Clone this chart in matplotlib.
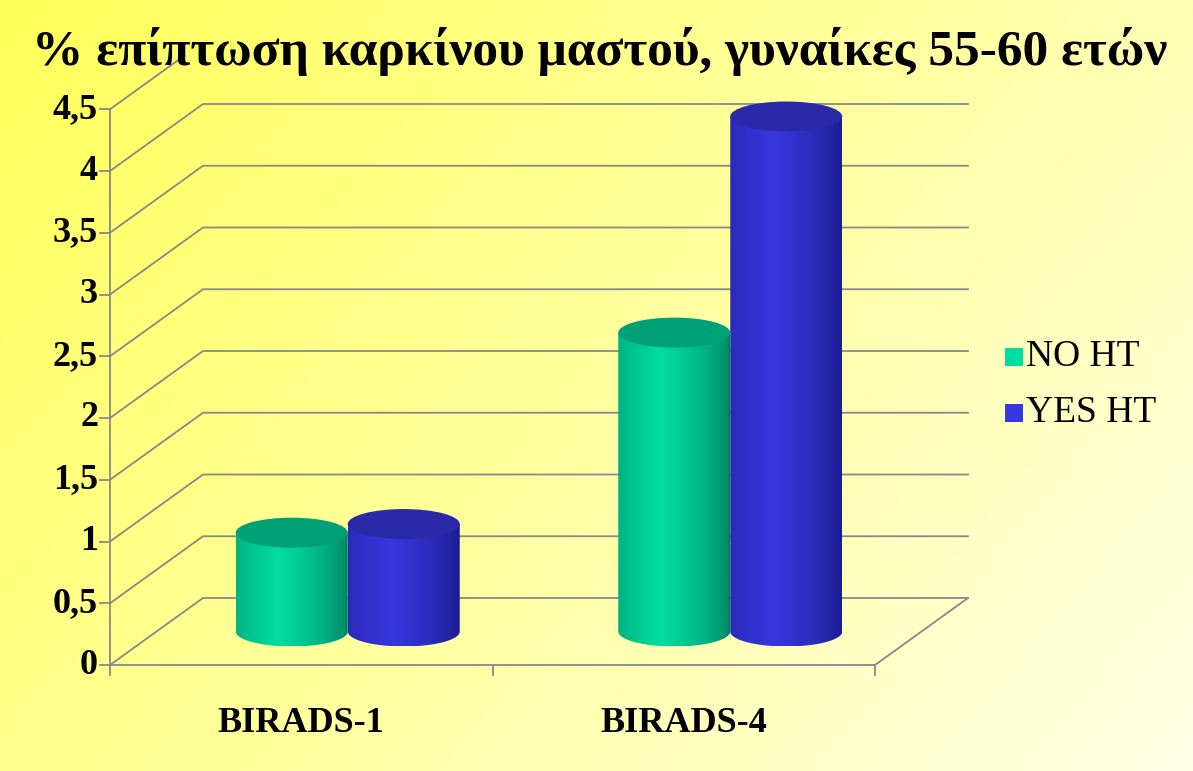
import numpy as np
import matplotlib.pyplot as plt
from matplotlib.patches import Ellipse, Rectangle, PathPatch
from matplotlib.path import Path

categories = ["BIRADS-1", "BIRADS-4"]
series = ["NO HT", "YES HT"]
no_ht = [0.8, 2.42]
yes_ht = [0.87, 4.17]
yticks = [0, 0.5, 1, 1.5, 2, 2.5, 3, 3.5, 4, 4.5]
ytick_labels = ["0", "0,5", "1", "1,5", "2", "2,5", "3", "3,5", "4", "4,5"]
title = "% επίπτωση καρκίνου μαστού, γυναίκες 55-60 ετών"

W, H = 1193, 771
fig = plt.figure(figsize=(W/100, H/100), dpi=100)
ax = fig.add_axes([0, 0, 1, 1])
ax.set_xlim(0, W); ax.set_ylim(H, 0); ax.axis('off')

xx, yy = np.meshgrid(np.linspace(0, 1, 200), np.linspace(0, 1, 130))
t = np.clip(0.65*xx + 0.35*yy, 0, 1)
c0 = np.array([1.0, 1.0, 0.35]); c1 = np.array([1.0, 1.0, 0.90])
bg = c0*(1-t[..., None]) + c1*t[..., None]
ax.imshow(bg, extent=[0, W, H, 0], aspect='auto', zorder=0)

X0, Y0, SC = 110, 665, 123.5
XR = 875
DX, DY = 93, -67
def yf(v, d=0.0):
    return Y0 - SC*v + DY*d

lc = '#888888'
for v in yticks:
    if v < 4.5:
        ax.plot([X0, X0+DX, XR+DX], [yf(v), yf(v, 1), yf(v, 1)], color=lc, lw=1.3, zorder=1)
    else:
        ax.plot([X0, X0+0.8*DX], [yf(v), yf(v, 0.8)], color=lc, lw=1.3, zorder=1)
    ax.plot([X0 - 10, X0], [yf(v), yf(v)], color=lc, lw=1.3, zorder=1)
ax.plot([X0, XR, XR+DX], [Y0, Y0, yf(0, 1)], color=lc, lw=1.3, zorder=1)
ax.plot([X0, X0], [Y0, yf(4.5)], color=lc, lw=1.3, zorder=1)
cat_w = (XR - X0) / len(categories)
for i in range(len(categories) + 1):
    x = X0 + i*cat_w
    ax.plot([x, x], [Y0, Y0 + 10], color=lc, lw=1.3, zorder=1)
for v, lab in zip(yticks, ytick_labels):
    ax.text(X0 - 12, yf(v), lab, ha='right', va='center', fontsize=26,
            fontweight='bold', family='Liberation Serif', zorder=5)
for i, c in enumerate(categories):
    ax.text(X0 + (i+0.5)*cat_w, 723, c, ha='center', va='center', fontsize=26,
            fontweight='bold', family='Liberation Serif', zorder=5)

def cylinder(cx, v, col_mid, col_edge, col_top):
    w, eh = 112, 30
    ybot = yf(0, 0.5); ytop = yf(v, 0.5)
    x0 = cx - w/2
    n = 60
    a = np.linspace(0, np.pi, n)
    verts = [(x0, ytop), (x0, ybot)] + list(zip(cx - w/2*np.cos(a), ybot + eh/2*np.sin(a))) + [(x0+w, ytop), (x0, ytop)]
    patch = PathPatch(Path(verts), fc='none', ec='none')
    ax.add_patch(patch)
    s = np.linspace(0, 1, 100)
    f = np.clip(1 - np.abs(s - 0.38)/0.62, 0, 1)**0.6
    cm = np.array(plt.matplotlib.colors.to_rgb(col_mid)); ce = np.array(plt.matplotlib.colors.to_rgb(col_edge))
    img = ce*(1-f[:, None]) + cm*f[:, None]
    im = ax.imshow(img[None, :, :], extent=[x0, x0+w, ybot + eh/2, ytop], aspect='auto', zorder=3)
    im.set_clip_path(patch)
    ax.add_patch(Ellipse((cx, ytop), w, eh, fc=col_top, ec='none', zorder=4))

cols = [('#00DDA0', '#007F60', '#00A077'), ('#3737E0', '#1A1A88', '#2A2AA8')]
for i in range(len(categories)):
    base = X0 + (i+0.5)*cat_w + DX/2
    for j, vals in enumerate([no_ht, yes_ht]):
        cx = base + (j - 0.5)*112
        cylinder(cx, vals[i], *cols[j])

ax.text(W/2 + 3, 52, title, ha='center', va='center', fontsize=37, fontweight='bold',
        family='Liberation Serif', zorder=5)

for j, s in enumerate(series):
    y = 357 + j*56
    ax.add_patch(Rectangle((1005, y - 9), 18, 18, fc=cols[j][0], ec='none', zorder=5))
    ax.text(1026, y, s, ha='left', va='center', fontsize=27, family='Liberation Serif', zorder=5)

fig.savefig('out.png', dpi=100)
